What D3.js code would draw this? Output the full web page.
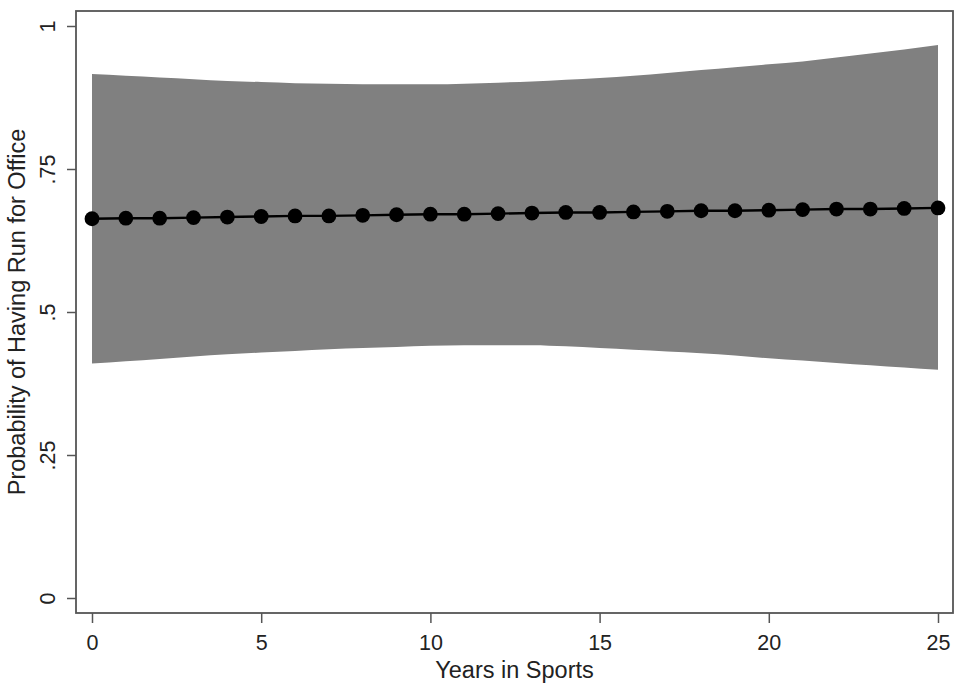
<!DOCTYPE html>
<html><head><meta charset="utf-8">
<script src="https://cdn.jsdelivr.net/npm/d3@7"></script>
<style>body{margin:0;background:#fff}svg{display:block}text{font-family:"Liberation Sans",Arial,sans-serif;fill:#222}</style>
</head><body>
<script>
const years = d3.range(0, 26);
const prob = [0.663,0.664,0.664,0.665,0.666,0.667,0.668,0.668,0.669,0.670,0.671,0.671,0.672,0.673,0.674,0.674,0.675,0.676,0.677,0.677,0.678,0.679,0.680,0.680,0.681,0.682];
const upper = [0.916,0.913,0.910,0.907,0.904,0.902,0.900,0.899,0.898,0.898,0.898,0.899,0.901,0.903,0.906,0.909,0.913,0.918,0.923,0.928,0.933,0.938,0.945,0.952,0.959,0.967];
const lower = [0.410,0.414,0.418,0.422,0.426,0.429,0.432,0.435,0.437,0.439,0.441,0.442,0.442,0.442,0.440,0.437,0.434,0.431,0.428,0.424,0.419,0.415,0.411,0.407,0.403,0.399];
const xTicks = [0,5,10,15,20,25];
const yTicks = [0,0.25,0.5,0.75,1];
const yTickLabels = ["0",".25",".5",".75","1"];

const W = 956, H = 689;
const svg = d3.select("body").append("svg").attr("width", W).attr("height", H);
const x = d3.scaleLinear().domain([0,25]).range([92,938]);
const y = d3.scaleLinear().domain([0,1]).range([598,26]);
const frame = {l:76, r:953, t:11, b:613};

const data = years.map((d,i)=>({x:d, p:prob[i], u:upper[i], l:lower[i]}));

svg.append("path").datum(data)
  .attr("d", d3.area().x(d=>x(d.x)).y0(d=>y(d.l)).y1(d=>y(d.u)).curve(d3.curveMonotoneX))
  .attr("fill","#808080");

svg.append("path").datum(data)
  .attr("d", d3.line().x(d=>x(d.x)).y(d=>y(d.p)))
  .attr("fill","none").attr("stroke","#000").attr("stroke-width",2.4);

svg.selectAll("circle.pt").data(data).enter().append("circle")
  .attr("cx", d=>x(d.x)).attr("cy", d=>y(d.p)).attr("r", 7.4).attr("fill","#000");

// frame
svg.append("rect").attr("x",frame.l).attr("y",frame.t)
  .attr("width",frame.r-frame.l).attr("height",frame.b-frame.t)
  .attr("fill","none").attr("stroke","#555").attr("stroke-width",1.8);

// x axis
const xa = svg.append("g").attr("transform",`translate(0,${frame.b})`)
  .call(d3.axisBottom(x).tickValues(xTicks).tickSize(10).tickPadding(12).tickFormat(d3.format("d")));
xa.select(".domain").remove();
xa.selectAll("line").attr("stroke","#555").attr("stroke-width",1.5);
xa.selectAll("text").attr("font-size",21.5).attr("fill","#222");

// y axis
const ya = svg.append("g").attr("transform",`translate(${frame.l},0)`)
  .call(d3.axisLeft(y).tickValues(yTicks).tickSize(9).tickFormat((d,i)=>yTickLabels[i]));
ya.select(".domain").remove();
ya.selectAll("line").attr("stroke","#555").attr("stroke-width",1.5);
ya.selectAll("text").remove();
ya.selectAll(".tick").append("text")
  .attr("transform","translate(-21,0) rotate(-90)")
  .attr("text-anchor","middle").attr("font-size",21.5).attr("fill","#222")
  .text((d,i)=>yTickLabels[i]);

svg.append("text").attr("x",(frame.l+frame.r)/2).attr("y",678)
  .attr("text-anchor","middle").attr("font-size",23.5).text("Years in Sports");
svg.append("text").attr("transform",`translate(25,${(frame.t+frame.b)/2}) rotate(-90)`)
  .attr("text-anchor","middle").attr("font-size",23.5).text("Probability of Having Run for Office");
</script>
</body></html>
